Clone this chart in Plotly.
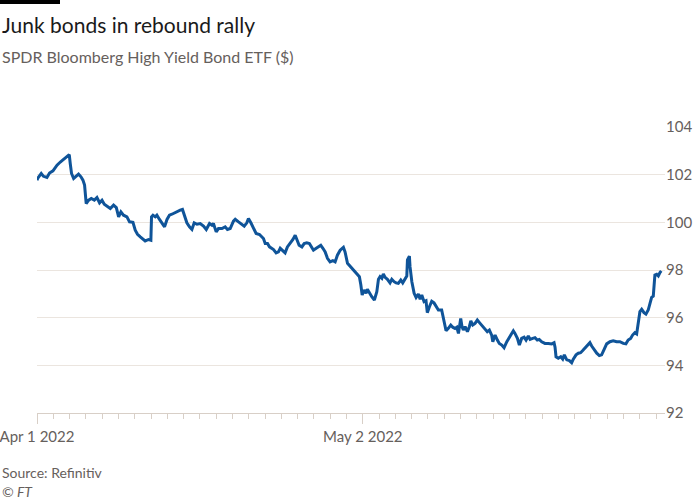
import plotly.graph_objects as go

# trading days on the x axis (Good Friday 15 Apr closed)
trading_days = [
    "Apr 1 2022", "Apr 4", "Apr 5", "Apr 6", "Apr 7", "Apr 8",
    "Apr 11", "Apr 12", "Apr 13", "Apr 14",
    "Apr 18", "Apr 19", "Apr 20", "Apr 21", "Apr 22",
    "Apr 25", "Apr 26", "Apr 27", "Apr 28", "Apr 29",
    "May 2 2022", "May 3", "May 4", "May 5", "May 6",
    "May 9", "May 10", "May 11", "May 12", "May 13",
    "May 16", "May 17", "May 18", "May 19", "May 20",
    "May 23", "May 24", "May 25", "May 26",
]
labelled_days = ["Apr 1 2022", "May 2 2022"]

# position in trading sessions since Apr 1 (fraction = time of day)
session = [
    0.00, 0.04, 0.26, 0.40, 0.61, 0.77, 0.98, 1.23, 1.43, 1.69, 1.90, 1.98,
    2.04, 2.12, 2.25, 2.41, 2.55, 2.70, 2.82, 2.92, 2.96, 3.02, 3.17, 3.33,
    3.52, 3.68, 3.84, 3.99, 4.13, 4.33, 4.50, 4.70, 4.87, 5.01, 5.15, 5.31,
    5.52, 5.68, 5.89, 6.03, 6.17, 6.34, 6.50, 6.64, 6.85, 6.99, 7.03, 7.12,
    7.26, 7.36, 7.52, 7.67, 7.83, 7.98, 8.13, 8.28, 8.44, 8.59, 8.79, 8.93,
    9.04, 9.20, 9.36, 9.51, 9.65, 9.82, 10.02, 10.22, 10.39, 10.59, 10.74, 10.83,
    11.00, 11.14, 11.35, 11.55, 11.69, 11.86, 12.06, 12.17, 12.37, 12.58, 12.72, 12.88,
    12.98, 13.13, 13.29, 13.45, 13.66, 13.80, 13.90, 14.01, 14.15, 14.27, 14.42, 14.52,
    14.68, 14.82, 14.93, 15.07, 15.23, 15.37, 15.54, 15.71, 15.85, 15.95, 16.09, 16.26,
    16.40, 16.56, 16.72, 16.87, 16.97, 17.14, 17.28, 17.42, 17.55, 17.69, 17.83, 17.99,
    18.16, 18.30, 18.44, 18.61, 18.81, 18.91, 19.06, 19.26, 19.42, 19.59, 19.79, 19.88,
    19.96, 20.08, 20.20, 20.28, 20.41, 20.55, 20.71, 20.86, 20.96, 21.06, 21.17, 21.26,
    21.37, 21.51, 21.67, 21.78, 21.92, 22.04, 22.18, 22.33, 22.45, 22.60, 22.70, 22.74,
    22.86, 22.90, 23.01, 23.15, 23.27, 23.41, 23.52, 23.62, 23.76, 23.88, 23.96, 24.09,
    24.23, 24.37, 24.50, 24.64, 24.84, 24.99, 25.11, 25.25, 25.40, 25.52, 25.66, 25.77,
    25.87, 26.01, 26.09, 26.17, 26.28, 26.42, 26.54, 26.63, 26.75, 26.89, 27.03, 27.20,
    27.36, 27.50, 27.64, 27.77, 27.91, 27.98, 28.12, 28.26, 28.38, 28.53, 28.67, 28.84,
    29.00, 29.14, 29.24, 29.34, 29.49, 29.61, 29.75, 29.90, 30.02, 30.16, 30.27, 30.43,
    30.57, 30.71, 30.83, 30.98, 31.18, 31.39, 31.60, 31.74, 31.80, 31.86, 32.00, 32.15,
    32.27, 32.37, 32.52, 32.68, 32.82, 32.92, 33.09, 33.23, 33.37, 33.50, 33.64, 33.78,
    33.94, 34.05, 34.19, 34.36, 34.52, 34.66, 34.80, 34.97, 35.17, 35.37, 35.58, 35.78,
    35.99, 36.15, 36.29, 36.44, 36.56, 36.70, 36.81, 36.91, 37.01, 37.12, 37.26, 37.38,
    37.52, 37.63, 37.73, 37.83, 37.93, 38.04, 38.14, 38.24, 38.32,
]
price = [
    101.77, 101.84, 102.05, 101.93, 101.88, 102.07, 102.16, 102.40, 102.53, 102.68, 102.77, 102.84,
    102.47, 102.05, 101.84, 101.93, 102.02, 101.91, 101.77, 101.56, 101.07, 100.79, 100.93, 101.00,
    100.93, 101.04, 100.82, 100.93, 100.76, 100.68, 100.58, 100.72, 100.62, 100.23, 100.44, 100.30,
    100.23, 100.02, 100.00, 99.67, 99.50, 99.39, 99.28, 99.22, 99.28, 99.25, 100.23, 100.30,
    100.23, 100.30, 100.12, 99.98, 99.81, 100.12, 100.30, 100.34, 100.40, 100.44, 100.51, 100.54,
    100.30, 99.98, 99.81, 99.70, 99.98, 99.92, 99.95, 99.84, 99.70, 99.95, 99.88, 99.95,
    99.60, 99.74, 99.74, 99.81, 99.70, 99.74, 100.05, 100.13, 100.02, 99.92, 99.84, 99.98,
    100.16, 99.98, 99.74, 99.53, 99.49, 99.39, 99.32, 99.11, 99.11, 98.97, 98.91, 98.86,
    98.72, 98.76, 98.91, 98.81, 98.72, 98.97, 99.11, 99.28, 99.46, 99.28, 99.04, 98.97,
    99.11, 99.14, 99.11, 98.94, 98.83, 98.91, 98.97, 99.04, 98.91, 98.76, 98.49, 98.34,
    98.39, 98.34, 98.62, 98.83, 98.95, 98.76, 98.28, 98.13, 98.02, 97.86, 97.72, 97.37,
    96.95, 97.16, 97.02, 97.19, 97.02, 96.88, 96.74, 97.09, 97.61, 97.72, 97.65, 97.83,
    97.69, 97.61, 97.46, 97.61, 97.51, 97.46, 97.44, 97.58, 97.46, 97.65, 97.75, 98.42,
    98.58, 98.13, 97.51, 97.02, 96.85, 96.99, 96.77, 96.95, 96.67, 96.71, 96.21, 96.46,
    96.69, 96.62, 96.50, 96.32, 96.32, 95.90, 95.45, 95.55, 95.69, 95.60, 95.55, 95.60,
    95.34, 95.97, 95.62, 95.48, 95.62, 95.41, 95.62, 95.87, 95.69, 95.76, 95.90, 95.76,
    95.62, 95.51, 95.41, 95.48, 95.27, 94.99, 95.27, 95.06, 94.92, 94.85, 94.74, 94.99,
    95.20, 95.34, 95.45, 95.34, 95.13, 94.85, 95.13, 95.18, 95.06, 95.23, 95.09, 95.13,
    95.16, 95.06, 95.09, 94.99, 94.92, 94.92, 94.90, 94.95, 94.76, 94.36, 94.30, 94.36,
    94.26, 94.44, 94.23, 94.20, 94.11, 94.26, 94.44, 94.51, 94.53, 94.62, 94.72, 94.81,
    94.95, 94.81, 94.67, 94.51, 94.41, 94.44, 94.65, 94.90, 94.99, 95.03, 94.99, 94.99,
    94.92, 94.90, 95.06, 95.13, 95.27, 95.37, 95.32, 95.76, 96.25, 96.35, 96.21, 96.15,
    96.32, 96.60, 96.85, 96.90, 97.79, 97.82, 97.75, 97.89, 97.96,
]
y_ticks = [92, 94, 96, 98, 100, 102, 104]

grey = "#66605c"
grid = "#ebe5df"
axis_col = "#d8cfc7"
font = "Lato"

fig = go.Figure()
fig.add_trace(go.Scatter(
    x=session, y=price, mode="lines",
    line=dict(color="#0f5499", width=3),
    hoverinfo="skip", showlegend=False,
))

major = [trading_days.index(d) for d in labelled_days]
fig.update_xaxes(
    range=[0, 38.55], automargin=False,
    tickmode="array", tickvals=major, ticktext=labelled_days,
    ticks="outside", ticklen=10, tickcolor=axis_col, tickwidth=1,
    tickfont=dict(family=font, size=15, color=grey),
    ticklabeloverflow="allow",
    showline=True, linecolor=axis_col, linewidth=1,
    showgrid=False, zeroline=False,
    minor=dict(tickmode="array", tickvals=list(range(len(trading_days))),
               ticks="outside", ticklen=5, tickcolor=axis_col, showgrid=False),
)
fig.update_yaxes(
    range=[92, 104], side="right", automargin=False,
    tickmode="array", tickvals=y_ticks,
    tickfont=dict(family=font, size=15, color=grey),
    ticklabeloverflow="allow",
    showgrid=True, gridcolor=grid, gridwidth=1,
    zeroline=False, showline=False, ticks="",
)

fig.update_layout(
    width=700, height=500,
    margin=dict(l=37, r=35, t=127, b=87),
    paper_bgcolor="white", plot_bgcolor="white",
    font=dict(family=font, color=grey),
)

# FT-style black tab above the title
fig.add_shape(type="rect", xref="paper", yref="paper",
              x0=-37 / 628, x1=23 / 628, y0=(413 - 4) / 286, y1=413 / 286,
              fillcolor="black", line_width=0)

fig.add_annotation(text="Junk bonds in rebound rally", xref="paper", yref="paper",
                   x=-37 / 628, y=(413 - 10) / 286, xanchor="left", yanchor="top",
                   showarrow=False, font=dict(family=font, size=21, color="#1a1a1a"))
fig.add_annotation(text="SPDR Bloomberg High Yield Bond ETF ($)", xref="paper", yref="paper",
                   x=-37 / 628, y=(413 - 45) / 286, xanchor="left", yanchor="top",
                   showarrow=False, font=dict(family=font, size=16, color=grey))
fig.add_annotation(text="Source: Refinitiv", xref="paper", yref="paper",
                   x=-37 / 628, y=(413 - 462) / 286, xanchor="left", yanchor="top",
                   showarrow=False, font=dict(family=font, size=14, color=grey))
fig.add_annotation(text="<i>© FT</i>", xref="paper", yref="paper",
                   x=-37 / 628, y=(413 - 481) / 286, xanchor="left", yanchor="top",
                   showarrow=False, font=dict(family=font, size=14, color=grey))

fig.write_html("out.html", config={"displayModeBar": False},
               post_script="document.body.style.margin='0';")
